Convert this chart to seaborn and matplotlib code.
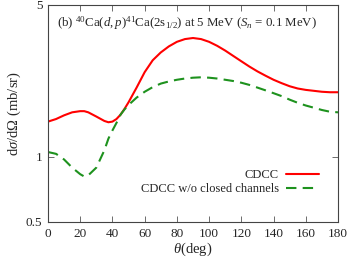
import numpy as np
import pandas as pd
import seaborn as sns
import matplotlib.pyplot as plt
from matplotlib.ticker import FixedLocator, NullLocator, FixedFormatter

theta = [0, 5, 10, 15, 20, 22.5, 25, 30, 35, 37.5, 40, 42.5, 45, 47.5, 50, 55, 60,
         65, 70, 75, 80, 85, 90, 95, 100, 105, 110, 115, 120, 125, 130, 135, 140,
         145, 150, 155, 160, 165, 170, 175, 180]
cdcc = [1.45, 1.49, 1.55, 1.60, 1.62, 1.62, 1.60, 1.53, 1.46, 1.44, 1.45, 1.49,
        1.56, 1.66, 1.78, 2.08, 2.45, 2.78, 3.02, 3.22, 3.38, 3.48, 3.52, 3.48,
        3.38, 3.24, 3.08, 2.91, 2.75, 2.60, 2.47, 2.36, 2.26, 2.18, 2.11, 2.06,
        2.03, 2.01, 1.99, 1.98, 1.98]
no_closed = [1.05, 1.03, 0.97, 0.89, 0.83, 0.81, 0.82, 0.89, 1.07, 1.21, 1.32,
             1.43, 1.56, 1.65, 1.73, 1.87, 1.99, 2.09, 2.17, 2.22, 2.26, 2.29,
             2.31, 2.32, 2.31, 2.29, 2.26, 2.23, 2.19, 2.14, 2.08, 2.02, 1.96,
             1.90, 1.83, 1.77, 1.72, 1.68, 1.64, 1.61, 1.60]

labels = ["CDCC", "CDCC w/o closed channels"]

df = pd.concat([
    pd.DataFrame({"theta": theta, "xs": cdcc, "calc": labels[0]}),
    pd.DataFrame({"theta": theta, "xs": no_closed, "calc": labels[1]}),
])

sns.set_style("ticks")
plt.rcParams["font.family"] = ["Liberation Serif", "DejaVu Serif"]
plt.rcParams["mathtext.fontset"] = "custom"
plt.rcParams["mathtext.rm"] = "Liberation Serif"
plt.rcParams["mathtext.it"] = "Liberation Serif:italic"
plt.rcParams["mathtext.bf"] = "Liberation Serif:bold"

fig = plt.figure(figsize=(3.49, 2.59), dpi=100)
ax = fig.add_axes([0.1375, 0.143, 0.831, 0.838])

sns.lineplot(data=df, x="theta", y="xs", hue="calc", style="calc",
             palette=["#ff0000", "#1e921e"], dashes=[(), (5, 3)],
             linewidth=1.5, ax=ax)

ax.set_yscale("log")
ax.set_xlim(0, 180)
ax.set_ylim(0.5, 5)
ax.set_xticks(range(0, 181, 20))
ax.yaxis.set_major_locator(FixedLocator([0.5, 1, 5]))
ax.yaxis.set_major_formatter(FixedFormatter(["0.5", "1", "5"]))
ax.yaxis.set_minor_locator(NullLocator())
ax.tick_params(direction="in", top=True, right=True, labelsize=9.5, length=4,
               width=0.6, color="#555555", pad=4)
for s in ax.spines.values():
    s.set_linewidth(0.8)
    s.set_color("#444444")

ax.set_xlabel(r"$\theta$(deg)", fontsize=10.5, labelpad=1)
ax.set_ylabel(r"d$\sigma$/d$\Omega$ (mb/sr)", fontsize=10.5, labelpad=2)

ax.text(0.03, 0.955,
        r"(b) $^{40}$Ca($d,p$)$^{41}$Ca(2s$_{1/2}$) at 5 MeV ($S_n$ = 0.1 MeV)",
        transform=ax.transAxes, fontsize=9.3, va="top", ha="left")

leg = ax.legend(loc="lower right", bbox_to_anchor=(0.955, 0.095), frameon=False,
                markerfirst=False, fontsize=9.0, handlelength=2.6,
                labelspacing=0.15, handletextpad=0.6, borderpad=0)
# right-align the legend rows like the original
leg._legend_box._children[1]._children[0].align = "right"

fig.savefig("out.png", dpi=100)
